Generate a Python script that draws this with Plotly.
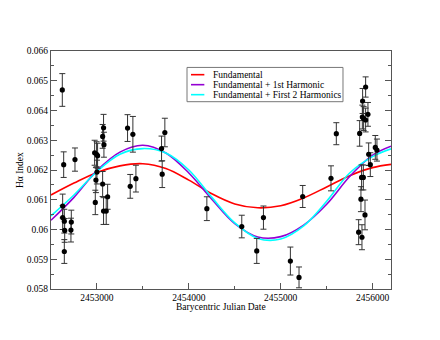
import plotly.graph_objects as go

# ---- observed data (Barycentric JD, H-alpha index, error) ----
obs_bjd = [2452623, 2452638, 2452761, 2452627, 2452627, 2452645, 2452649, 2452645,
           2452721, 2452717,
           2452975, 2452996, 2453007, 2452989, 2453000, 2452982, 2453062, 2453072,
           2453076, 2453062, 2453072, 2453101, 2453116,
           2453333, 2453362, 2453391, 2453424, 2453703, 2453710, 2453739,
           2454196, 2454576, 2454739, 2454812, 2455105, 2455199, 2455239,
           2455547, 2455605,
           2455859, 2455891, 2455924, 2455888, 2455902, 2455924, 2455949, 2455957,
           2455975, 2455880, 2455899, 2455873, 2455917, 2455848, 2455884,
           2456029, 2456047]
obs_ha = [0.06469, 0.06218, 0.06235, 0.06079, 0.06040, 0.06028, 0.05997, 0.05926,
          0.06025, 0.05998,
          0.06258, 0.06253, 0.06248, 0.06166, 0.06193, 0.06091, 0.06313, 0.06342,
          0.06285, 0.06153, 0.06062, 0.06062, 0.06110,
          0.06341, 0.06145, 0.06320, 0.06171, 0.06272, 0.06186, 0.06326,
          0.06070, 0.06010, 0.05928, 0.06040, 0.05894, 0.05839, 0.06111,
          0.06172, 0.06322,
          0.06323, 0.06432, 0.06479, 0.06378, 0.06373, 0.06368, 0.06387, 0.06253,
          0.06218, 0.06175, 0.06175, 0.06102, 0.06049, 0.05991, 0.05974,
          0.06276, 0.06267]
obs_err = [0.00055, 0.00043, 0.00039, 0.00040, 0.00040, 0.00040, 0.00040, 0.00040,
           0.00040, 0.00040,
           0.00042, 0.00042, 0.00042, 0.00042, 0.00040, 0.00041, 0.00040, 0.00045,
           0.00042, 0.00042, 0.00045, 0.00045, 0.00042,
           0.00045, 0.00040, 0.00060, 0.00045, 0.00042, 0.00045, 0.00048,
           0.00040, 0.00038, 0.00042, 0.00039, 0.00047, 0.00035, 0.00037,
           0.00042, 0.00037,
           0.00043, 0.00042, 0.00034, 0.00040, 0.00040, 0.00040, 0.00040, 0.00038,
           0.00040, 0.00042, 0.00042, 0.00042, 0.00050, 0.00042, 0.00042,
           0.00040, 0.00037]

# ---- fitted model curves ----
fit_bjd = [2452500, 2452750, 2453000, 2453250, 2453500, 2453750, 2454000, 2454250,
           2454500, 2454750, 2455000, 2455250, 2455500, 2455750, 2456000, 2456200]
fit_fund = [0.06116, 0.06156, 0.06192, 0.06214, 0.06221, 0.06205, 0.06166, 0.06120,
            0.06086, 0.06073, 0.06080, 0.06106, 0.06143, 0.06181, 0.06208, 0.06219]
fit_h1 = [0.06031, 0.06108, 0.06198, 0.06260, 0.06283, 0.06257, 0.06190, 0.06102,
          0.06020, 0.05975, 0.05976, 0.06015, 0.06085, 0.06178, 0.06250, 0.06280]
fit_h2 = [0.06046, 0.06116, 0.06195, 0.06253, 0.06272, 0.06257, 0.06200, 0.06108,
          0.06022, 0.05970, 0.05968, 0.06012, 0.06095, 0.06190, 0.06245, 0.06271]

series_names = ["Fundamental", "Fundamental + 1st Harmonic", "Fundamental + First 2 Harmonics"]
series_colors = ["#ff0000", "#9400d3", "#00ffff"]

x_ticks = [2453000, 2454000, 2455000, 2456000]
y_ticks = [0.058, 0.059, 0.060, 0.061, 0.062, 0.063, 0.064, 0.065, 0.066]
y_ticklabels = ["0.058", "0.059", "0.06", "0.061", "0.062", "0.063", "0.064", "0.065", "0.066"]

FONT = "Liberation Serif, Times New Roman, serif"
FRAME = "#555555"

fig = go.Figure()

for ys, name, col in zip([fit_fund, fit_h1, fit_h2], series_names, series_colors):
    fig.add_trace(go.Scatter(x=fit_bjd, y=ys, mode="lines", name=name,
                             line=dict(color=col, width=1.6, shape="spline", smoothing=1.0),
                             showlegend=False, hoverinfo="skip"))

fig.add_trace(go.Scatter(
    x=obs_bjd, y=obs_ha, mode="markers", showlegend=False,
    marker=dict(color="black", size=5.2),
    error_y=dict(type="data", array=obs_err, visible=True, color="#333333",
                 thickness=1, width=3)))

# legend drawn manually (compact, like the original)
L = dict(x0=0.400, x1=0.8588, y0=0.7870, y1=0.9310)
fig.add_shape(type="rect", xref="paper", yref="paper", x0=L["x0"], x1=L["x1"],
              y0=L["y0"], y1=L["y1"], line=dict(color="#777777", width=1),
              fillcolor="white", layer="above")
rows_y = [0.9005, 0.8585, 0.8165]
for ry, name, col in zip(rows_y, series_names, series_colors):
    fig.add_shape(type="line", xref="paper", yref="paper", x0=0.4118, x1=0.4510,
                  y0=ry, y1=ry, line=dict(color=col, width=1.6), layer="above")
    fig.add_annotation(xref="paper", yref="paper", x=0.4706, y=ry, text=name,
                       showarrow=False, xanchor="left", yanchor="middle",
                       font=dict(family=FONT, size=9.5, color="black"))

# axis titles
fig.add_annotation(xref="paper", yref="paper", x=0.5, y=-0.075, text="Barycentric Julian Date",
                   showarrow=False, xanchor="center", yanchor="middle",
                   font=dict(family=FONT, size=9.5, color="black"))
fig.add_annotation(xref="paper", yref="paper", x=-0.091, y=0.5, text="Hα Index",
                   showarrow=False, xanchor="center", yanchor="middle", textangle=-90,
                   font=dict(family=FONT, size=9.5, color="black"))

# page body has an 8px margin: shift the plot area up/left to land where the original is
fig.update_layout(
    width=440, height=340,
    margin=dict(l=43, r=57, t=43, b=59),
    paper_bgcolor="white", plot_bgcolor="white",
    font=dict(family=FONT, size=9.5, color="black"),
    showlegend=False,
)
fig.update_xaxes(range=[2452500, 2456200], tickvals=x_ticks,
                 ticktext=[str(v) for v in x_ticks],
                 ticks="inside", ticklen=6, tickcolor=FRAME, tickwidth=1,
                 showline=True, linecolor=FRAME, linewidth=1, mirror=True,
                 showgrid=False, zeroline=False,
                 minor=dict(dtick=500, tick0=2452500, ticks="inside", ticklen=3,
                            tickcolor=FRAME, showgrid=False),
                 tickfont=dict(family=FONT, size=9.5, color="black"))
fig.update_yaxes(range=[0.058, 0.066], tickvals=y_ticks, ticktext=y_ticklabels,
                 ticks="inside", ticklen=6, tickcolor=FRAME, tickwidth=1,
                 showline=True, linecolor=FRAME, linewidth=1, mirror="allticks",
                 showgrid=False, zeroline=False,
                 minor=dict(dtick=0.0005, tick0=0.058, ticks="inside", ticklen=3,
                            tickcolor=FRAME, showgrid=False),
                 tickfont=dict(family=FONT, size=9.5, color="black"))

fig.write_html("out.html")
